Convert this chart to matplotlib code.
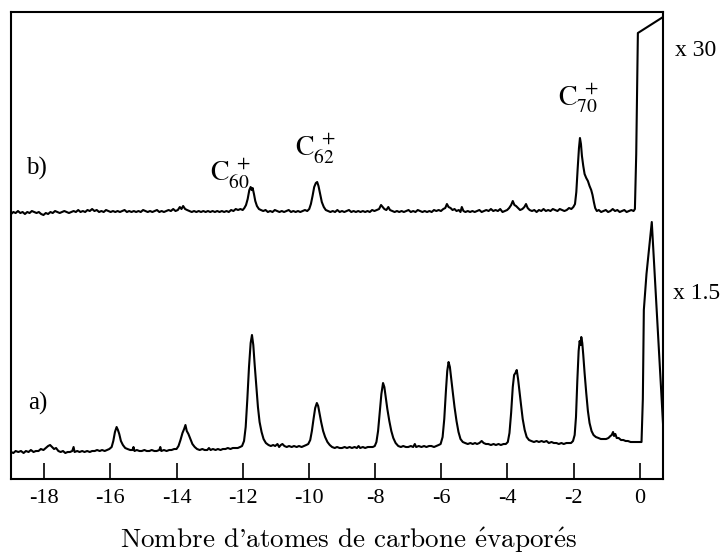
import matplotlib
matplotlib.use("Agg")
import matplotlib.pyplot as plt
import numpy as np

plt.rcParams['axes.unicode_minus'] = False
plt.rcParams['mathtext.fontset'] = 'stix'

# spectrum a) : (carbon atoms lost, counts)
trace_a = [
    (-19.00, 27), (-18.93, 26), (-18.86, 28), (-18.78, 27), (-18.70, 28), (-18.62, 26),
    (-18.55, 28), (-18.47, 27), (-18.40, 29), (-18.32, 27), (-18.25, 28), (-18.17, 28),
    (-18.10, 30), (-18.02, 29), (-17.95, 31), (-17.88, 33), (-17.82, 34), (-17.76, 32),
    (-17.70, 30), (-17.64, 31), (-17.57, 28), (-17.50, 27), (-17.43, 28), (-17.36, 26),
    (-17.29, 27), (-17.22, 27), (-17.15, 28), (-17.11, 32), (-17.08, 27), (-17.00, 28),
    (-16.93, 27), (-16.85, 28), (-16.78, 27), (-16.70, 28), (-16.62, 27), (-16.55, 28),
    (-16.47, 28), (-16.40, 29), (-16.32, 28), (-16.25, 29), (-16.17, 28), (-16.10, 29),
    (-16.03, 30), (-15.96, 32), (-15.91, 38), (-15.86, 47), (-15.81, 52), (-15.77, 49),
    (-15.73, 45), (-15.68, 38), (-15.62, 34), (-15.55, 31), (-15.48, 30), (-15.40, 29),
    (-15.33, 29), (-15.30, 32), (-15.27, 28), (-15.20, 29), (-15.12, 28), (-15.05, 28),
    (-14.97, 29), (-14.90, 28), (-14.82, 28), (-14.75, 29), (-14.67, 28), (-14.60, 28),
    (-14.52, 29), (-14.49, 32), (-14.46, 28), (-14.38, 29), (-14.30, 28), (-14.22, 29),
    (-14.15, 29), (-14.07, 30), (-14.00, 30), (-13.94, 33), (-13.88, 39), (-13.82, 46),
    (-13.77, 50), (-13.73, 54), (-13.69, 48), (-13.64, 45), (-13.58, 40), (-13.52, 35),
    (-13.45, 32), (-13.38, 30), (-13.30, 29), (-13.22, 30), (-13.15, 29), (-13.07, 29),
    (-13.02, 31), (-12.97, 29), (-12.90, 30), (-12.82, 29), (-12.75, 30), (-12.67, 29),
    (-12.60, 30), (-12.52, 30), (-12.45, 31), (-12.37, 30), (-12.30, 31), (-12.22, 31),
    (-12.15, 31), (-12.08, 32), (-12.02, 33), (-11.96, 38), (-11.91, 52), (-11.86, 80),
    (-11.81, 112), (-11.76, 136), (-11.72, 144), (-11.68, 134), (-11.64, 115), (-11.59, 93),
    (-11.54, 72), (-11.49, 57), (-11.43, 47), (-11.37, 40), (-11.30, 36), (-11.22, 34),
    (-11.15, 33), (-11.08, 34), (-11.02, 33), (-10.95, 35), (-10.90, 32), (-10.85, 34),
    (-10.80, 35), (-10.74, 33), (-10.67, 32), (-10.60, 33), (-10.52, 32), (-10.45, 33),
    (-10.37, 32), (-10.30, 33), (-10.22, 32), (-10.15, 33), (-10.08, 34), (-10.02, 35),
    (-9.96, 39), (-9.91, 48), (-9.86, 60), (-9.81, 71), (-9.76, 76), (-9.72, 73),
    (-9.68, 66), (-9.63, 57), (-9.57, 48), (-9.51, 42), (-9.44, 37), (-9.37, 34),
    (-9.30, 32), (-9.22, 31), (-9.15, 32), (-9.07, 31), (-9.00, 31), (-8.92, 32),
    (-8.85, 31), (-8.77, 32), (-8.70, 31), (-8.62, 32), (-8.55, 31), (-8.50, 33),
    (-8.45, 31), (-8.37, 32), (-8.30, 31), (-8.22, 32), (-8.15, 32), (-8.07, 32),
    (-8.01, 33), (-7.96, 37), (-7.91, 48), (-7.86, 66), (-7.81, 85), (-7.76, 96),
    (-7.72, 92), (-7.68, 82), (-7.63, 70), (-7.57, 58), (-7.51, 48), (-7.45, 41),
    (-7.38, 36), (-7.30, 33), (-7.22, 32), (-7.15, 33), (-7.07, 32), (-7.00, 32),
    (-6.92, 33), (-6.85, 32), (-6.80, 35), (-6.76, 32), (-6.68, 33), (-6.60, 32),
    (-6.52, 33), (-6.45, 32), (-6.37, 33), (-6.30, 33), (-6.22, 32), (-6.15, 33),
    (-6.08, 34), (-6.02, 35), (-5.96, 42), (-5.91, 60), (-5.86, 88), (-5.82, 108),
    (-5.78, 117), (-5.74, 112), (-5.70, 100), (-5.65, 86), (-5.60, 72), (-5.54, 58),
    (-5.48, 47), (-5.42, 40), (-5.35, 37), (-5.28, 36), (-5.20, 35), (-5.12, 36),
    (-5.05, 35), (-4.98, 36), (-4.92, 35), (-4.85, 36), (-4.78, 38), (-4.72, 36),
    (-4.65, 35), (-4.58, 35), (-4.50, 34), (-4.42, 35), (-4.35, 34), (-4.27, 35),
    (-4.20, 34), (-4.12, 35), (-4.05, 35), (-3.99, 37), (-3.94, 46), (-3.89, 66),
    (-3.84, 92), (-3.80, 104), (-3.76, 106), (-3.72, 109), (-3.68, 100), (-3.64, 88),
    (-3.59, 74), (-3.54, 60), (-3.48, 49), (-3.42, 42), (-3.35, 39), (-3.28, 38),
    (-3.20, 37), (-3.12, 38), (-3.05, 37), (-2.97, 38), (-2.90, 37), (-2.82, 38),
    (-2.75, 36), (-2.67, 37), (-2.60, 36), (-2.52, 36), (-2.45, 35), (-2.37, 36),
    (-2.30, 35), (-2.22, 36), (-2.15, 36), (-2.08, 36), (-2.02, 38), (-1.97, 44),
    (-1.93, 62), (-1.89, 98), (-1.85, 128), (-1.82, 138), (-1.79, 134), (-1.77, 142),
    (-1.74, 136), (-1.71, 124), (-1.67, 106), (-1.62, 86), (-1.57, 68), (-1.52, 56),
    (-1.46, 48), (-1.40, 44), (-1.33, 42), (-1.25, 41), (-1.18, 40), (-1.10, 40),
    (-1.02, 40), (-0.95, 41), (-0.89, 43), (-0.85, 44), (-0.81, 47), (-0.78, 43),
    (-0.74, 45), (-0.70, 41), (-0.64, 41), (-0.57, 39), (-0.50, 39), (-0.43, 38),
    (-0.36, 38), (-0.28, 37), (-0.21, 37), (-0.14, 37), (-0.07, 37), (0.00, 37),
    (0.05, 37), (0.09, 80), (0.12, 169), (0.20, 205), (0.36, 257), (0.70, 55),
]

# spectrum b) (x30), counts above its own baseline
trace_b = [
    (-19.00, 0), (-18.93, 2), (-18.86, 1), (-18.79, 3), (-18.72, 1), (-18.65, 2),
    (-18.58, 0), (-18.51, 2), (-18.44, 1), (-18.37, 3), (-18.30, 2), (-18.23, 1),
    (-18.16, 2), (-18.09, 0), (-18.02, -1), (-17.95, 1), (-17.88, 0), (-17.81, 2),
    (-17.74, 1), (-17.67, 3), (-17.60, 2), (-17.53, 1), (-17.46, 2), (-17.39, 3),
    (-17.32, 2), (-17.25, 1), (-17.18, 2), (-17.11, 3), (-17.04, 2), (-16.97, 4),
    (-16.90, 2), (-16.83, 3), (-16.76, 2), (-16.69, 4), (-16.62, 3), (-16.55, 5),
    (-16.48, 3), (-16.41, 4), (-16.34, 2), (-16.27, 3), (-16.20, 2), (-16.13, 4),
    (-16.06, 3), (-15.99, 2), (-15.92, 3), (-15.85, 2), (-15.78, 3), (-15.71, 2),
    (-15.64, 3), (-15.57, 4), (-15.50, 2), (-15.43, 3), (-15.36, 2), (-15.29, 3),
    (-15.22, 2), (-15.15, 3), (-15.08, 2), (-15.01, 4), (-14.94, 3), (-14.87, 2),
    (-14.80, 3), (-14.73, 2), (-14.66, 3), (-14.59, 4), (-14.52, 2), (-14.45, 3),
    (-14.38, 2), (-14.31, 3), (-14.24, 4), (-14.17, 3), (-14.10, 5), (-14.03, 3),
    (-13.96, 4), (-13.90, 7), (-13.85, 5), (-13.80, 8), (-13.74, 5), (-13.68, 4),
    (-13.61, 3), (-13.54, 2), (-13.47, 3), (-13.40, 2), (-13.33, 3), (-13.26, 2),
    (-13.19, 3), (-13.12, 2), (-13.05, 3), (-12.98, 2), (-12.91, 3), (-12.84, 2),
    (-12.77, 3), (-12.70, 2), (-12.63, 3), (-12.56, 2), (-12.49, 3), (-12.42, 2),
    (-12.35, 4), (-12.28, 3), (-12.21, 5), (-12.14, 4), (-12.07, 5), (-12.00, 4),
    (-11.95, 6), (-11.90, 9), (-11.85, 15), (-11.80, 24), (-11.76, 27), (-11.73, 24),
    (-11.70, 26), (-11.66, 20), (-11.62, 13), (-11.57, 8), (-11.51, 5), (-11.45, 4),
    (-11.38, 3), (-11.31, 4), (-11.24, 2), (-11.17, 3), (-11.10, 2), (-11.03, 4),
    (-10.96, 3), (-10.89, 2), (-10.82, 3), (-10.75, 2), (-10.68, 3), (-10.61, 4),
    (-10.54, 2), (-10.47, 3), (-10.40, 2), (-10.33, 3), (-10.26, 2), (-10.19, 3),
    (-10.12, 4), (-10.05, 3), (-9.99, 5), (-9.94, 10), (-9.89, 18), (-9.84, 27),
    (-9.79, 31), (-9.75, 32), (-9.71, 28), (-9.66, 20), (-9.61, 12), (-9.55, 7),
    (-9.49, 4), (-9.42, 3), (-9.35, 2), (-9.28, 3), (-9.21, 2), (-9.14, 4),
    (-9.07, 2), (-9.00, 3), (-8.93, 2), (-8.86, 3), (-8.79, 4), (-8.72, 2),
    (-8.65, 3), (-8.58, 2), (-8.51, 3), (-8.44, 2), (-8.37, 3), (-8.30, 2),
    (-8.23, 3), (-8.16, 2), (-8.09, 4), (-8.02, 3), (-7.95, 4), (-7.88, 5),
    (-7.82, 9), (-7.77, 7), (-7.72, 5), (-7.66, 4), (-7.60, 7), (-7.55, 4),
    (-7.48, 3), (-7.41, 2), (-7.34, 3), (-7.27, 2), (-7.20, 3), (-7.13, 2),
    (-7.06, 3), (-6.99, 4), (-6.92, 2), (-6.85, 3), (-6.78, 2), (-6.71, 4),
    (-6.64, 3), (-6.57, 2), (-6.50, 3), (-6.43, 2), (-6.36, 3), (-6.29, 2),
    (-6.22, 4), (-6.15, 3), (-6.08, 4), (-6.01, 3), (-5.94, 5), (-5.88, 6),
    (-5.83, 10), (-5.78, 7), (-5.72, 6), (-5.66, 4), (-5.60, 5), (-5.54, 3),
    (-5.47, 4), (-5.42, 2), (-5.38, 7), (-5.33, 3), (-5.27, 2), (-5.20, 3),
    (-5.13, 2), (-5.06, 3), (-4.99, 2), (-4.92, 3), (-4.85, 4), (-4.78, 2),
    (-4.71, 3), (-4.64, 4), (-4.57, 3), (-4.50, 5), (-4.43, 3), (-4.36, 4),
    (-4.29, 3), (-4.22, 5), (-4.15, 2), (-4.08, 3), (-4.01, 4), (-3.95, 6),
    (-3.89, 9), (-3.84, 13), (-3.79, 9), (-3.74, 8), (-3.68, 6), (-3.62, 4),
    (-3.55, 5), (-3.49, 7), (-3.44, 10), (-3.39, 6), (-3.33, 4), (-3.26, 3),
    (-3.19, 4), (-3.12, 2), (-3.05, 4), (-2.98, 3), (-2.91, 5), (-2.84, 3),
    (-2.77, 4), (-2.70, 3), (-2.63, 5), (-2.56, 4), (-2.49, 3), (-2.42, 5),
    (-2.35, 4), (-2.28, 3), (-2.21, 4), (-2.14, 6), (-2.07, 5), (-2.01, 7),
    (-1.96, 10), (-1.92, 22), (-1.88, 45), (-1.84, 66), (-1.81, 76), (-1.78, 70),
    (-1.75, 58), (-1.71, 48), (-1.67, 40), (-1.62, 36), (-1.57, 33), (-1.52, 28),
    (-1.47, 24), (-1.43, 19), (-1.39, 12), (-1.35, 6), (-1.30, 3), (-1.24, 4),
    (-1.17, 2), (-1.10, 3), (-1.03, 4), (-0.96, 2), (-0.89, 3), (-0.82, 5),
    (-0.75, 3), (-0.68, 4), (-0.61, 2), (-0.54, 3), (-0.47, 4), (-0.40, 2),
    (-0.33, 3), (-0.26, 4), (-0.19, 3), (-0.15, 5), (-0.11, 60), (-0.06, 181),
    (0.70, 197),
]
offset_b = 265

xticks = [-18, -16, -14, -12, -10, -8, -6, -4, -2, 0]
peak_labels = [(-12.99, 297, r'$\mathrm{C}_{60}^{\,\,+}$'),
               (-10.42, 322, r'$\mathrm{C}_{62}^{\,\,+}$'),
               (-2.48, 373, r'$\mathrm{C}_{70}^{\,\,+}$')]

xa, ya = np.array(trace_a).T
xb, yb = np.array(trace_b).T

fig = plt.figure(figsize=(7.21, 5.59), dpi=100)
ax = fig.add_axes([0.0153, 0.1431, 0.9043, 0.8354])

ax.plot(xa, ya, color='black', lw=1.5)
ax.plot(xb, yb + offset_b, color='black', lw=1.5)

ax.set_xlim(-19.0, 0.70)
ax.set_ylim(0, 467)
ax.set_xticks(xticks)
ax.set_xticklabels([str(t) for t in xticks], family='Liberation Serif', fontsize=16)
ax.set_yticks([])
ax.tick_params(axis='x', direction='in', length=11.5, width=1.2, pad=7)
for s in ax.spines.values():
    s.set_linewidth(1.5)

serif = 'Liberation Serif'
ax.text(-18.22, 311, 'b)', family=serif, fontsize=18, ha='center', va='center')
ax.text(-18.19, 76, 'a)', family=serif, fontsize=18, ha='center', va='center')
ax.text(1.06, 429, 'x 30', family=serif, fontsize=17, ha='left', va='center', clip_on=False)
ax.text(1.00, 186, 'x 1.5', family=serif, fontsize=17, ha='left', va='center', clip_on=False)
for x, y, s in peak_labels:
    ax.text(x, y, s, fontsize=20, ha='left', va='baseline')

ax.set_xlabel(r"Nombre d'atomes de carbone $\acute{\mathrm{e}}$vapor$\acute{\mathrm{e}}$s",
              family='cmr10', math_fontfamily='cm', fontsize=19.5)
ax.xaxis.set_label_coords(0.518, -0.1)

fig.savefig('out.png', dpi=100)
